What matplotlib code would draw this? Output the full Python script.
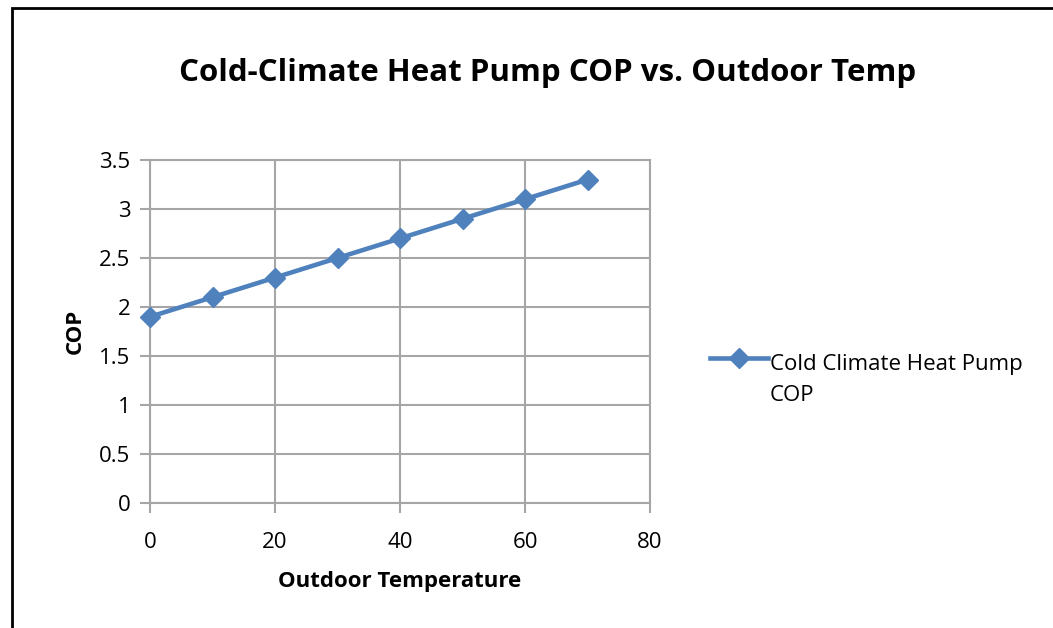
import matplotlib.pyplot as plt
from matplotlib.patches import Rectangle
from matplotlib.legend_handler import HandlerLine2D

# outdoor temperature vs. COP of the heat pump
temps = [0, 10, 20, 30, 40, 50, 60, 70]
cop = [1.9, 2.1, 2.3, 2.5, 2.7, 2.9, 3.1, 3.3]
x_ticks = [0, 20, 40, 60, 80]
y_ticks = [0, 0.5, 1, 1.5, 2, 2.5, 3, 3.5]
y_labels = ['0', '0.5', '1', '1.5', '2', '2.5', '3', '3.5']

plt.rcParams['font.family'] = ['Open Sans', 'DejaVu Sans']

line_color = '#4F81BD'
grid_color = '#A6A6A6'


class FirstLineHandler(HandlerLine2D):
    # put the legend sample next to the first line of a two-line label
    def create_artists(self, legend, orig_handle, xdescent, ydescent,
                       width, height, fontsize, trans):
        return super().create_artists(legend, orig_handle, xdescent,
                                      ydescent - 32, width, height,
                                      fontsize, trans)


fig = plt.figure(figsize=(10.53, 6.28), dpi=100)
ax = fig.add_axes([150 / 1053, 1 - 503 / 628, 500 / 1053, 343 / 628])

ax.plot(temps, cop, color=line_color, lw=3.3, marker='D', markersize=10,
        markeredgecolor=line_color, label='Cold Climate Heat Pump\nCOP',
        clip_on=False, zorder=3)

ax.set_xlim(0, 80)
ax.set_ylim(0, 3.5)
ax.set_xticks(x_ticks)
ax.set_yticks(y_ticks)
ax.set_yticklabels(y_labels)
ax.grid(True, color=grid_color, lw=1.5)
for s in ax.spines.values():
    s.set_color(grid_color)
    s.set_linewidth(1.5)
ax.tick_params(axis='both', colors=grid_color, labelcolor='black',
               length=7, width=1.5, labelsize=16)
ax.tick_params(axis='x', pad=14)
ax.tick_params(axis='y', pad=7)

ax.set_xlabel('Outdoor Temperature', fontsize=16, fontweight='bold', labelpad=13)
ax.set_ylabel('COP', fontsize=16, fontweight='bold', labelpad=10)

fig.text(548 / 1053, 1 - 73 / 628, 'Cold-Climate Heat Pump COP vs. Outdoor Temp',
         ha='center', va='center', fontsize=22.5, fontweight='bold')

leg = fig.legend(loc='upper left', bbox_to_anchor=(710 / 1053, 1 - 354 / 628),
                 frameon=False, fontsize=16, handlelength=2.6, handletextpad=0.1,
                 borderaxespad=0, borderpad=0,
                 handler_map={plt.Line2D: FirstLineHandler()})
for t in leg.get_texts():
    t.set_linespacing(1.65)

# outer chart border
fig.patches.append(Rectangle((12 / 1053, -0.1), 1.2, 1 - 8 / 628 + 0.1,
                             transform=fig.transFigure, fill=False,
                             edgecolor='black', lw=2))

fig.savefig('out.png', dpi=100)
